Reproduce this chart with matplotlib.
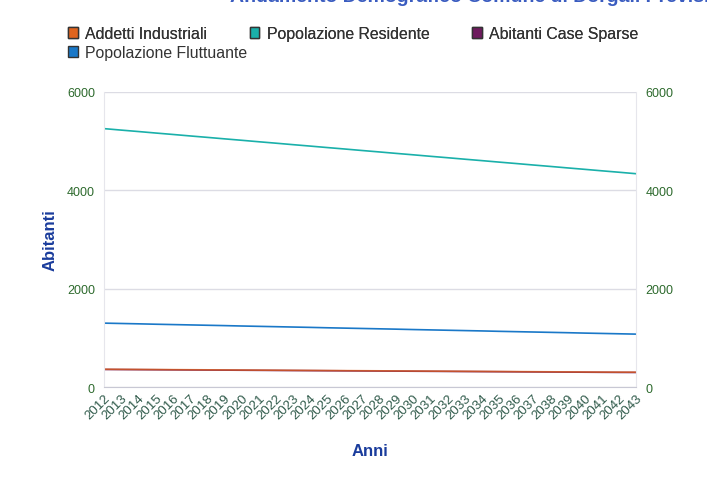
import matplotlib
matplotlib.use('Agg')
import matplotlib.pyplot as plt
from matplotlib.patches import Patch

anni = list(range(2012, 2044))

addetti_industriali = [370, 368, 366, 364, 362, 360, 358, 356, 354, 352, 350, 348, 346, 344, 342, 340,
                       338, 336, 334, 332, 330, 328, 326, 324, 322, 320, 318, 316, 314, 312, 311, 310]
popolazione_residente = [5250, 5220, 5191, 5161, 5132, 5102, 5073, 5043, 5014, 4984, 4955, 4925, 4896, 4866, 4837, 4807,
                         4778, 4748, 4719, 4689, 4660, 4630, 4601, 4571, 4542, 4512, 4483, 4453, 4424, 4394, 4365, 4335]
abitanti_case_sparse = [366, 364, 362, 360, 358, 356, 354, 352, 350, 348, 346, 344, 342, 340, 338, 336,
                        334, 332, 330, 328, 326, 324, 322, 320, 318, 316, 314, 312, 310, 308, 306, 305]
popolazione_fluttuante = [1305, 1298, 1291, 1283, 1276, 1269, 1262, 1255, 1247, 1240, 1233, 1226, 1219, 1211, 1204, 1197,
                          1190, 1183, 1175, 1168, 1161, 1154, 1147, 1139, 1132, 1125, 1118, 1111, 1103, 1096, 1089, 1082]

y_ticks = [0, 2000, 4000, 6000]

c_orange = '#e0641e'
c_teal = '#1ab0aa'
c_purple = '#6e1a5e'
c_blue = '#1a78c8'
c_tick = '#2d6a2d'
c_title = '#1a3c9c'

plt.rcParams['font.family'] = ['Liberation Sans', 'DejaVu Sans']

fig = plt.figure(figsize=(7.07, 4.85), dpi=100)
ax = fig.add_axes([0.147, 0.199, 0.753, 0.610])

ax.plot(anni, abitanti_case_sparse, color=c_purple, lw=1.2)
ax.plot(anni, addetti_industriali, color=c_orange, lw=1.2, alpha=0.75)
ax.plot(anni, popolazione_residente, color=c_teal, lw=1.2)
ax.plot(anni, popolazione_fluttuante, color=c_blue, lw=1.2)

ax.set_xlim(anni[0], anni[-1])
ax.set_ylim(0, 6000)
ax.set_yticks(y_ticks)
ax.set_xticks(anni)
ax.set_xticklabels([str(a) for a in anni], rotation=45, ha='right', rotation_mode='anchor',
                   fontsize=9.5, color='#2f5a4a')
ax.tick_params(axis='y', length=0, labelsize=9, labelcolor=c_tick, pad=6.5)
ax.tick_params(axis='x', length=0, pad=3)
ax.grid(axis='y', color='#dcdce4', lw=1)
ax.spines['top'].set_visible(False)
for s in ['left', 'right']:
    ax.spines[s].set_color('#e6e6ec')
ax.spines['bottom'].set_color('#c8c8d4')

ax2 = ax.twinx()
ax2.set_ylim(0, 6000)
ax2.set_yticks(y_ticks)
ax2.tick_params(axis='y', length=0, labelsize=9, labelcolor=c_tick, pad=6.5)
for s in ax2.spines.values():
    s.set_visible(False)

ax.set_ylabel('Abitanti', fontsize=12, fontweight='bold', color=c_title, labelpad=7)
ax.set_xlabel('Anni', fontsize=12, fontweight='bold', color=c_title, labelpad=16)

fig.text(0.325, 1.006, 'Andamento Demografico Comune di Dorgali Previsionale', fontsize=14,
         fontweight='bold', color='#3a5cc0', ha='left', va='center')

# legend: first row of three, then one more entry on a second row
row1 = [Patch(facecolor=c_orange, edgecolor='#333333', label='Addetti Industriali'),
        Patch(facecolor=c_teal, edgecolor='#333333', label='Popolazione Residente'),
        Patch(facecolor=c_purple, edgecolor='#333333', label='Abitanti Case Sparse')]
row2 = [Patch(facecolor=c_blue, edgecolor='#333333', label='Popolazione Fluttuante')]
leg_kw = dict(loc='upper left', frameon=False, fontsize=11.4, handlelength=0.62, handleheight=0.62,
              handletextpad=0.45, borderaxespad=0, borderpad=0)
leg1 = fig.legend(handles=row1, bbox_to_anchor=(0.096, 0.944), ncol=3, columnspacing=2.7, **leg_kw)
leg2 = fig.legend(handles=row2, bbox_to_anchor=(0.096, 0.905), **leg_kw)
fig.add_artist(leg1)
for leg in (leg1, leg2):
    for t in leg.get_texts():
        t.set_color('#333333')

fig.savefig('out.png', dpi=100)
